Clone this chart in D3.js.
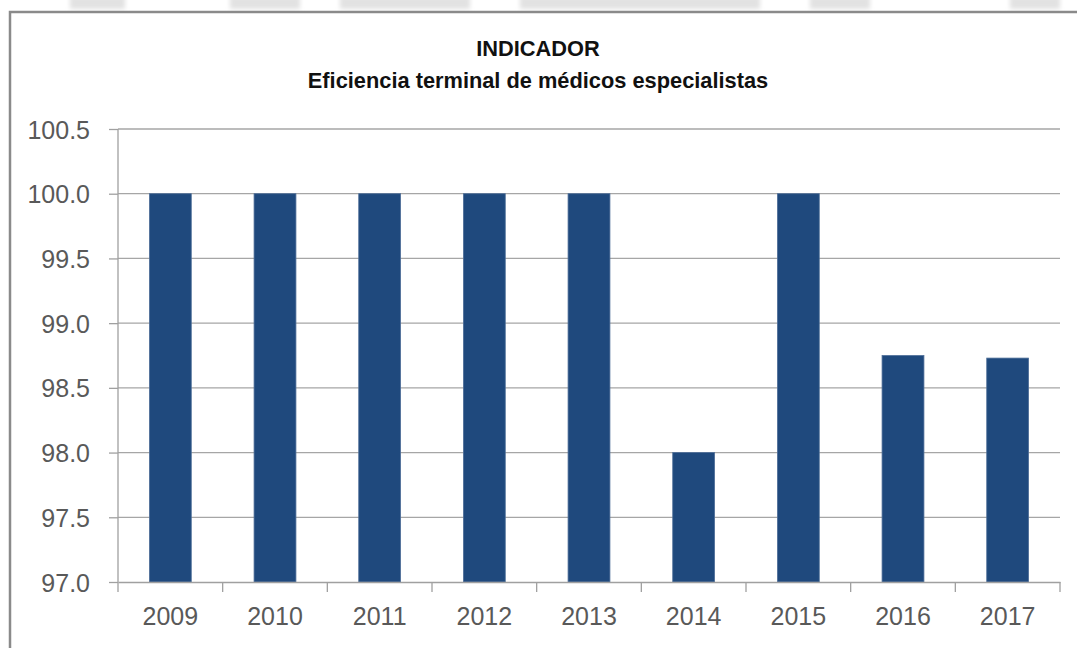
<!DOCTYPE html>
<html lang="es">
  <head>
    <meta charset="UTF-8">
    <title>Indicador</title>
    <script src="https://cdn.jsdelivr.net/npm/d3@7"></script>
    <style>
      body { margin: 0; background: #fff; }
      .grid line { stroke: #a6a6a6; stroke-width: 1.3; }
      .axis path, .axis line { stroke: #a0a0a0; stroke-width: 1.3; }
      .axis text { fill: #595959; font-family: "Liberation Sans", Arial, sans-serif; font-size: 25px; }
      .bar { fill: #1f497d; stroke: #4f6f99; stroke-width: 0.8; }
      .title { font-family: "Liberation Sans", Arial, sans-serif; font-weight: bold; font-size: 21.8px; fill: #111; }
    </style>
  </head>
  <body>
    <svg id="chart"></svg>

    <script>
      var years = ["2009", "2010", "2011", "2012", "2013", "2014", "2015", "2016", "2017"];
      var values = [100.0, 100.0, 100.0, 100.0, 100.0, 98.0, 100.0, 98.75, 98.73];
      var yTicks = [97.0, 97.5, 98.0, 98.5, 99.0, 99.5, 100.0, 100.5];
      var titleLines = ["INDICADOR", "Eficiencia terminal de médicos especialistas"];

      var width = 1077, height = 648;
      var svg = d3.select("#chart").attr("width", width).attr("height", height);

      var defs = svg.append("defs");
      defs.append("filter").attr("id", "soft")
        .append("feGaussianBlur").attr("stdDeviation", 2);

      // faint watermark strip above the frame
      var wm = svg.append("g").attr("fill", "#e2e2e2").attr("filter", "url(#soft)");
      [[70, 125], [230, 300], [340, 470], [520, 760], [810, 870], [1010, 1060]].forEach(function(r) {
        wm.append("rect").attr("x", r[0]).attr("y", -4).attr("width", r[1] - r[0]).attr("height", 13);
      });

      // chart frame
      svg.append("path")
          .attr("d", "M10," + (height + 5) + "V12H" + (width + 5))
          .attr("fill", "none")
          .attr("stroke", "#8a8a8a")
          .attr("stroke-width", 2.5);

      var margin = { left: 118, right: width - 1060, top: 129, bottom: height - 582 };
      var innerW = width - margin.left - margin.right,
          innerH = height - margin.top - margin.bottom;

      var x = d3.scaleBand().domain(years).range([0, innerW]).paddingInner(0.6).paddingOuter(0.3);
      var xEdges = d3.scaleLinear().domain([0, years.length]).range([0, innerW]);
      var y = d3.scaleLinear().domain([97.0, 100.5]).range([innerH, 0]);

      var g = svg.append("g").attr("transform", "translate(" + margin.left + "," + margin.top + ")");

      g.append("g").attr("class", "grid")
        .selectAll("line")
        .data(yTicks.slice(1))
        .enter().append("line")
          .attr("x1", 0).attr("x2", innerW)
          .attr("y1", function(d) { return y(d); })
          .attr("y2", function(d) { return y(d); });

      g.selectAll(".bar")
        .data(values)
        .enter().append("rect")
          .attr("class", "bar")
          .attr("x", function(d, i) { return x(years[i]); })
          .attr("width", x.bandwidth())
          .attr("y", function(d) { return y(d); })
          .attr("height", function(d) { return innerH - y(d); });

      var yAxis = g.append("g").attr("class", "axis")
          .call(d3.axisLeft(y).tickValues(yTicks).tickFormat(d3.format(".1f")).tickSize(9).tickPadding(19).tickSizeOuter(0));
      yAxis.select(".domain").attr("d", "M0,0V" + innerH);
      yAxis.selectAll("text").attr("dy", "0.36em");

      var xAxis = g.append("g").attr("class", "axis")
          .attr("transform", "translate(0," + innerH + ")")
          .call(d3.axisBottom(x).tickSize(0).tickPadding(26));
      xAxis.selectAll("text").attr("dy", "0.68em");
      xAxis.selectAll(".edge")
        .data(d3.range(years.length + 1))
        .enter().append("line")
          .attr("class", "edge")
          .attr("x1", function(d) { return xEdges(d); })
          .attr("x2", function(d) { return xEdges(d); })
          .attr("y1", 0).attr("y2", 10);

      svg.selectAll(".title")
        .data(titleLines)
        .enter().append("text")
          .attr("class", "title")
          .attr("text-anchor", "middle")
          .attr("x", 538)
          .attr("y", function(d, i) { return 56 + i * 32; })
          .text(function(d) { return d; });
    </script>
  </body>
</html>
